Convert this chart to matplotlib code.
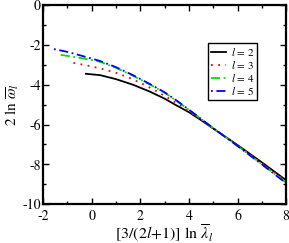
import matplotlib
matplotlib.use("Agg")
import matplotlib.pyplot as plt
from matplotlib.ticker import MultipleLocator

plt.rcParams['font.family'] = ['STIXGeneral', 'DejaVu Serif']
plt.rcParams['mathtext.fontset'] = 'stix'
plt.rcParams['axes.unicode_minus'] = False

# l = 2
x2 = [-0.24, 0.35, 1.0, 1.7, 2.4, 3.0, 3.43, 4.0, 4.5, 5.0, 6.0, 7.0, 8.0]
y2 = [-3.45, -3.52, -3.72, -4.0, -4.35, -4.70, -5.0, -5.38, -5.78, -6.20, -7.03, -7.90, -8.80]
# l = 3
x3 = [-0.75, -0.2, 0.35, 1.0, 1.6, 2.13, 2.6, 3.0, 3.5, 4.0, 4.5, 5.0, 6.0, 7.0, 8.0]
y3 = [-2.90, -3.03, -3.18, -3.40, -3.68, -3.98, -4.28, -4.56, -4.93, -5.33, -5.75, -6.19, -7.05, -7.94, -8.86]
# l = 4
x4 = [-1.27, -0.5, 0.0, 0.35, 1.0, 1.7, 2.4, 3.0, 3.5, 4.0, 4.5, 5.0, 6.0, 7.0, 8.0]
y4 = [-2.50, -2.65, -2.76, -2.85, -3.15, -3.55, -3.99, -4.40, -4.82, -5.26, -5.72, -6.18, -7.07, -7.99, -8.92]
# l = 5
x5 = [-1.55, -1.0, -0.4, 0.35, 1.0, 1.7, 2.4, 3.0, 3.5, 4.0, 4.5, 5.0, 6.0, 7.0, 8.0]
y5 = [-2.21, -2.35, -2.55, -2.81, -3.12, -3.52, -3.97, -4.38, -4.80, -5.25, -5.72, -6.18, -7.08, -8.00, -8.95]

fig = plt.figure(figsize=(2.89, 2.43), dpi=100)
ax = fig.add_axes([0.149, 0.160, 0.841, 0.819])

lw = 1.3
ax.plot(x2, y2, color='black', lw=lw, label=r'$l$ = 2')
ax.plot(x3, y3, color='red', lw=lw, linestyle=(0, (1, 3)), label=r'$l$ = 3')
ax.plot(x4, y4, color='#00e000', lw=lw, linestyle=(0, (5, 2, 1, 2)), label=r'$l$ = 4')
ax.plot(x5, y5, color='blue', lw=lw, linestyle=(0, (1, 2, 5, 2)), label=r'$l$ = 5')

ax.set_xlim(-2, 8)
ax.set_ylim(-10, 0)
ax.xaxis.set_major_locator(MultipleLocator(2))
ax.xaxis.set_minor_locator(MultipleLocator(1))
ax.yaxis.set_major_locator(MultipleLocator(2))
ax.yaxis.set_minor_locator(MultipleLocator(1))
ax.tick_params(which='both', direction='in', top=True, right=True, labelsize=10)
ax.tick_params(axis='x', pad=4)
ax.tick_params(axis='y', pad=1.5)
ax.tick_params(which='major', length=4, width=1)
ax.tick_params(which='minor', length=2, width=1)
for s in ax.spines.values():
    s.set_linewidth(1.6)

ax.set_xlabel(r'[3/(2$l$+1)] ln $\overline{\lambda}_l$', fontsize=11.5, labelpad=0)
ax.set_ylabel(r'2 ln $\overline{\omega}_l$', fontsize=11, labelpad=1)

leg = ax.legend(loc='upper left', bbox_to_anchor=(0.679, 0.81), fontsize=8,
                frameon=True, fancybox=False, framealpha=1, edgecolor='black',
                handlelength=1.4, handletextpad=0.4, borderpad=0.25, labelspacing=0.1,
                borderaxespad=0)
leg.get_frame().set_linewidth(1.0)

fig.savefig('out.png', dpi=100)
